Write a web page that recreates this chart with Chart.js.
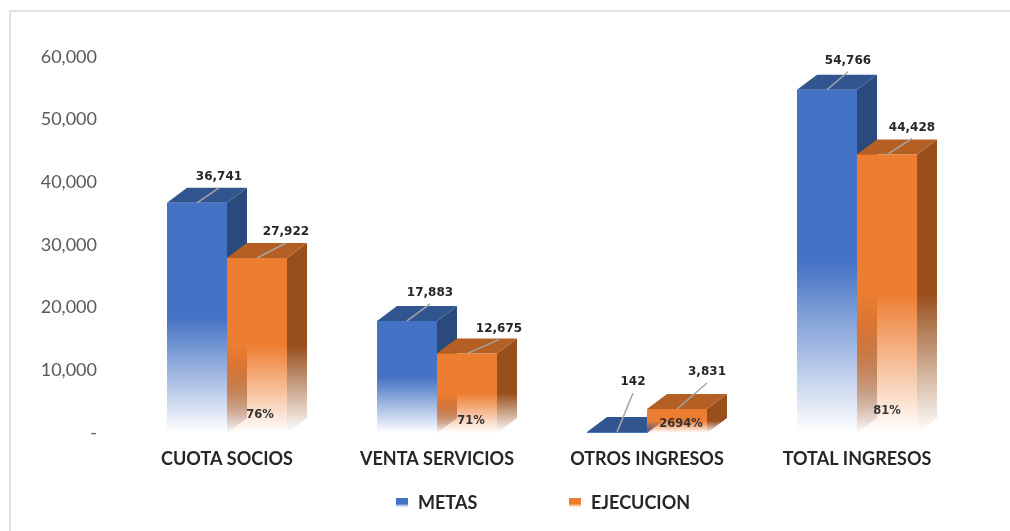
<!DOCTYPE html>
<html>
<head>
<meta charset="utf-8">
<script src="https://cdn.jsdelivr.net/npm/chart.js@4"></script>
<style>
  html, body { margin: 0; padding: 0; background: #fff; overflow: hidden; }
  #frame { position: absolute; left: 9px; top: 10px; right: 0; bottom: 0; border-left: 2px solid #e2e2e2; border-top: 2px solid #e2e2e2; }
  canvas { position: absolute; left: 0; top: 0; }
</style>
</head>
<body>
<div id="frame"></div>
<canvas id="chart" width="1010" height="531"></canvas>
<script>
const categories = ['CUOTA SOCIOS', 'VENTA SERVICIOS', 'OTROS INGRESOS', 'TOTAL INGRESOS'];
const metas = [36741, 17883, 142, 54766];
const ejecucion = [27922, 12675, 3831, 44428];
const porcentajes = ['76%', '71%', '2694%', '81%'];
const yTicks = [0, 10000, 20000, 30000, 40000, 50000, 60000];

// depth of the fake 3d box
const DX = 20, DY = 15;

// where each value label sits, measured from the top centre of its bar
const metasLabelPos = [[22, -26], [23, -28], [16, -50], [21, -29]];
const ejecucionLabelPos = [[29, -26], [32, -25], [30, -37], [25, -27]];
const percentPos = [[3, -18], [4, -12], [4, -9], [0, -22]];

const BLUE = {front: '68,114,196', side: '42,74,126', top: '48,85,143'};
const ORANGE = {front: '237,125,49', side: '152,79,28', top: '180,95,36'};

function fade(ctx, top, bottom, rgb) {
  const g = ctx.createLinearGradient(0, top, 0, bottom);
  g.addColorStop(0, 'rgba(' + rgb + ',1)');
  g.addColorStop(0.5, 'rgba(' + rgb + ',1)');
  g.addColorStop(1, 'rgba(' + rgb + ',0)');
  return g;
}

function frontFill(color) {
  return function(context) {
    const yScale = context.chart.scales.y;
    if (!yScale || context.raw === undefined) return 'rgb(' + color.front + ')';
    const t = yScale.getPixelForValue(context.raw), b = yScale.getPixelForValue(0);
    // scale has no size yet on the first pass
    if (!Number.isFinite(t) || !Number.isFinite(b)) return 'rgb(' + color.front + ')';
    return fade(context.chart.ctx, t, b, color.front);
  };
}

function poly(ctx, pts, fill) {
  ctx.beginPath();
  ctx.moveTo(pts[0][0], pts[0][1]);
  pts.slice(1).forEach((p) => ctx.lineTo(p[0], p[1]));
  ctx.closePath();
  ctx.fillStyle = fill;
  ctx.fill();
}

const box3d = {
  id: 'box3d',
  // all sides and tops go under the fronts, blue first then orange
  beforeDatasetsDraw(chart) {
    const ctx = chart.ctx;
    [0, 1].forEach((d) => {
      const color = d === 0 ? BLUE : ORANGE;
      chart.getDatasetMeta(d).data.forEach((bar, i) => {
        const l = bar.x - bar.width / 2, r = bar.x + bar.width / 2;
        const t = bar.y, b = bar.base;
        // blue side seen through the faded orange front
        if (d === 1 && metas[i] > ejecucion[i]) {
          poly(ctx, [[l, t], [l + DX, t - DY], [l + DX, b - DY], [l, b]], fade(ctx, t, b, color.side));
        }
        poly(ctx, [[r, t], [r + DX, t - DY], [r + DX, b - DY], [r, b]], fade(ctx, t, b, color.side));
        poly(ctx, [[l, t], [l + DX, t - DY], [r + DX, t - DY], [r, t]], 'rgb(' + color.top + ')');
      });
    });
  },
  afterDatasetsDraw(chart) {
    const ctx = chart.ctx;
    const positions = [metasLabelPos, ejecucionLabelPos];
    [0, 1].forEach((d) => {
      chart.getDatasetMeta(d).data.forEach((bar, i) => {
        const pos = positions[d][i];
        ctx.strokeStyle = '#a6a6a6';
        ctx.lineWidth = 1.5;
        ctx.beginPath();
        ctx.moveTo(bar.x, bar.y);
        ctx.lineTo(bar.x + pos[0], bar.y + pos[1] + 11);
        ctx.stroke();
        ctx.font = 'bold 12px "DejaVu Sans"';
        ctx.fillStyle = '#262626';
        ctx.textAlign = 'center';
        ctx.textBaseline = 'middle';
        ctx.fillText(chart.data.datasets[d].data[i].toLocaleString('en-US'), bar.x + pos[0], bar.y + pos[1]);
      });
    });
    chart.getDatasetMeta(1).data.forEach((bar, i) => {
      ctx.font = 'bold 11.5px "DejaVu Sans"';
      ctx.fillStyle = '#333333';
      ctx.fillText(porcentajes[i], bar.x + percentPos[i][0], bar.base + percentPos[i][1]);
    });

    // legend, the built in one cannot space its two items this far apart
    const items = [[396, 'rgb(' + BLUE.front + ')', chart.data.datasets[0].label], [569, 'rgb(' + ORANGE.front + ')', chart.data.datasets[1].label]];
    items.forEach((it) => {
      const g = ctx.createLinearGradient(0, 498, 0, 508);
      g.addColorStop(0, it[1]);
      g.addColorStop(0.6, it[1]);
      g.addColorStop(1, 'rgba(255,255,255,0.2)');
      ctx.fillStyle = g;
      ctx.fillRect(it[0], 498, 12, 10);
      ctx.font = 'bold 18px Lato';
      ctx.fillStyle = '#262626';
      ctx.textAlign = 'left';
      ctx.textBaseline = 'middle';
      ctx.fillText(it[2], it[0] + 22, 503);
    });
  }
};

new Chart(document.getElementById('chart'), {
  type: 'bar',
  data: {
    labels: categories,
    datasets: [
      {label: 'METAS', data: metas, backgroundColor: frontFill(BLUE)},
      {label: 'EJECUCION', data: ejecucion, backgroundColor: frontFill(ORANGE)}
    ]
  },
  plugins: [box3d],
  options: {
    responsive: false,
    animation: false,
    layout: {padding: {top: 57, right: 48, bottom: 48, left: 0}},
    datasets: {bar: {categoryPercentage: 0.5714, barPercentage: 1}},
    plugins: {legend: {display: false}, tooltip: {enabled: false}},
    scales: {
      x: {
        grid: {display: false, drawTicks: false},
        border: {display: false},
        afterFit: (s) => { s.height = 50; },
        ticks: {padding: 15, maxRotation: 0, color: '#262626', font: {family: 'Lato', weight: 'bold', size: 18}}
      },
      y: {
        min: 0,
        max: 60000,
        grid: {display: false, drawTicks: false},
        border: {display: false},
        afterFit: (s) => { s.width = 122; },
        afterBuildTicks: (s) => { s.ticks = yTicks.map((v) => ({value: v})); },
        ticks: {
          padding: 25,
          color: '#595959',
          font: {family: 'Lato', size: 18},
          callback: (v) => (v === 0 ? '-' : v.toLocaleString('en-US'))
        }
      }
    }
  }
});
</script>
</body>
</html>
